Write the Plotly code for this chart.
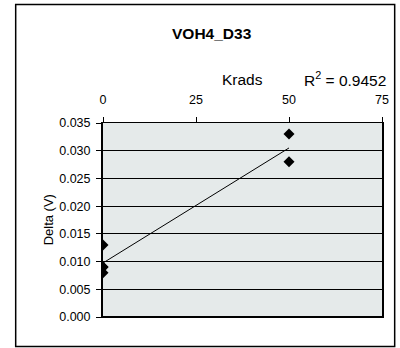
import numpy as np
import plotly.graph_objects as go

# data
krads = [0, 0, 0, 0, 50, 50]
delta = [0.013, 0.009, 0.009, 0.008, 0.033, 0.028]
x_ticks = [0, 25, 50, 75]
r2_text = "R<sup>2</sup> = 0.9452"

W, H = 400, 348
L, R, T, B = 103, 11, 123, 31
pw, ph = W - L - R, H - T - B


def px(x):
    return (x - L) / pw


def py(y):
    return (H - B - y) / ph


# linear trendline
k, c = np.polyfit(krads, delta, 1)
fit_x = [min(krads), max(krads)]
fit_y = [k * v + c for v in fit_x]

fig = go.Figure()
fig.add_trace(go.Scatter(x=fit_x, y=fit_y, mode="lines",
                         line=dict(color="black", width=1), hoverinfo="skip"))
fig.add_trace(go.Scatter(x=krads, y=delta, mode="markers",
                         marker=dict(symbol="diamond", size=8.5, color="black")))

font = dict(family="Liberation Sans, Arial, sans-serif", color="black")

fig.update_layout(
    width=W, height=H,
    margin=dict(l=L, r=R, t=T, b=B),
    paper_bgcolor="white",
    plot_bgcolor="#E5EAEA",
    showlegend=False,
    font=dict(size=12.5, **font),
    xaxis=dict(range=[0, 75], side="top", tickvals=x_ticks, ticks="outside",
               ticklen=5, tickcolor="black", showgrid=False, zeroline=False,
               showline=True, linecolor="black", linewidth=1, mirror=True,
               ticklabelstandoff=8, tickfont=dict(size=12.5, **font)),
    yaxis=dict(range=[0, 0.035], dtick=0.005, tickformat=".3f", ticks="outside",
               ticklen=5, tickcolor="black", showgrid=True, gridcolor="black",
               gridwidth=1, zeroline=False, showline=True, linecolor="black",
               linewidth=2, mirror=True, ticklabelstandoff=3,
               tickfont=dict(size=12.5, **font)),
)

# bottom axis line thicker like the original
fig.add_shape(type="line", xref="paper", yref="paper", x0=0, x1=1, y0=0, y1=0,
              line=dict(color="black", width=2))

# outer chart border
fig.add_shape(type="rect", xref="paper", yref="paper",
              x0=px(13.5), x1=px(402), y0=py(346.5), y1=py(4.5),
              line=dict(color="black", width=1.5), layer="below")


def label(text, x, y, size, angle=0):
    fig.add_annotation(text=text, xref="paper", yref="paper",
                       x=px(x), y=py(y), xanchor="center", yanchor="middle",
                       showarrow=False, textangle=angle,
                       font=dict(size=size, **font))


label("<b>VOH4_D33</b>", 215, 33, 15.5)
label("Krads", 246, 80, 15.5)
label(r2_text, 351, 79, 15.5)
label("Delta (V)", 47, 220, 13, angle=-90)

fig.write_html("out.html", config={"displayModeBar": False},
               post_script="document.body.style.margin='0';")
